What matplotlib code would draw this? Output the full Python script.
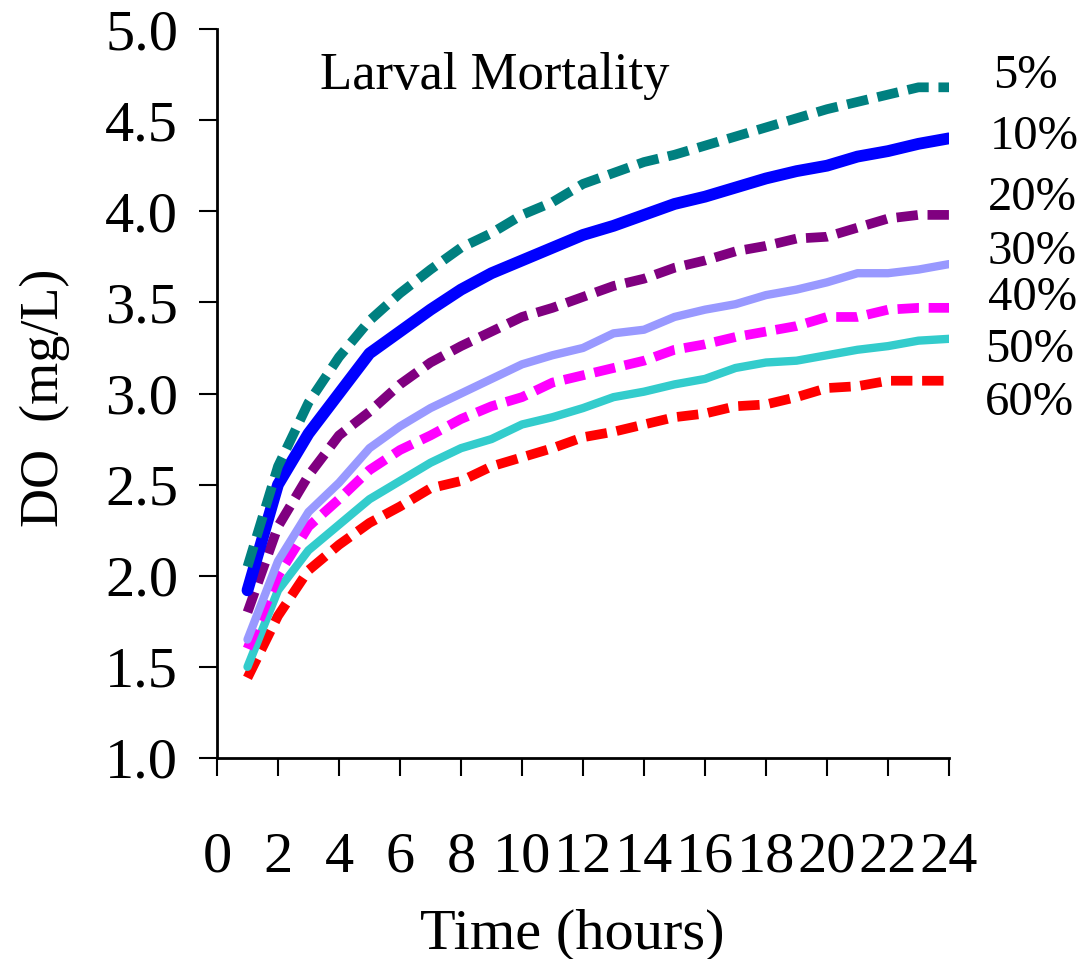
import numpy as np
import matplotlib
matplotlib.use("Agg")
import matplotlib.pyplot as plt

plt.rcParams["font.family"] = ["Liberation Serif", "DejaVu Serif"]

# hours after exposure
hours = list(range(1, 25))

# dissolved oxygen (mg/L) needed for each larval mortality level
do_5 = [2.05, 2.60, 2.95, 3.20, 3.40, 3.55, 3.68, 3.80, 3.88, 3.98, 4.05, 4.15,
        4.21, 4.27, 4.31, 4.36, 4.41, 4.46, 4.51, 4.56, 4.60, 4.64, 4.68, 4.68]
do_10 = [1.92, 2.50, 2.78, 3.00, 3.22, 3.34, 3.46, 3.57, 3.66, 3.73, 3.80, 3.87,
         3.92, 3.98, 4.04, 4.08, 4.13, 4.18, 4.22, 4.25, 4.30, 4.33, 4.37, 4.40]
do_20 = [1.80, 2.27, 2.55, 2.77, 2.90, 3.05, 3.17, 3.26, 3.34, 3.42, 3.47, 3.53,
         3.59, 3.63, 3.69, 3.73, 3.78, 3.81, 3.85, 3.86, 3.91, 3.96, 3.98, 3.98]
do_30 = [1.65, 2.08, 2.35, 2.51, 2.70, 2.82, 2.92, 3.00, 3.08, 3.16, 3.21, 3.25,
         3.33, 3.35, 3.42, 3.46, 3.49, 3.54, 3.57, 3.61, 3.66, 3.66, 3.68, 3.71]
do_40 = [1.60, 2.00, 2.27, 2.42, 2.58, 2.69, 2.77, 2.86, 2.93, 2.98, 3.06, 3.10,
         3.14, 3.18, 3.24, 3.27, 3.31, 3.34, 3.37, 3.42, 3.42, 3.46, 3.47, 3.47]
do_50 = [1.50, 1.92, 2.14, 2.28, 2.42, 2.52, 2.62, 2.70, 2.75, 2.83, 2.87, 2.92,
         2.98, 3.01, 3.05, 3.08, 3.14, 3.17, 3.18, 3.21, 3.24, 3.26, 3.29, 3.30]
do_60 = [1.44, 1.78, 2.03, 2.17, 2.29, 2.38, 2.48, 2.52, 2.60, 2.65, 2.70, 2.76,
         2.79, 2.83, 2.87, 2.89, 2.93, 2.94, 2.98, 3.03, 3.04, 3.07, 3.07, 3.07]

labels = ["5%", "10%", "20%", "30%", "40%", "50%", "60%"]
x_ticks = list(range(0, 25, 2))
y_ticks = [1.0, 1.5, 2.0, 2.5, 3.0, 3.5, 4.0, 4.5, 5.0]

W, H = 1088, 959
fig = plt.figure(figsize=(W / 100, H / 100), dpi=100)
ax = fig.add_axes([217 / W, 1 - 758 / H, (949 - 217) / W, (758 - 29) / H])

dash = (2.2, 1.0)
# (series, colour, width, dashed) -- drawn 60% first so lower levels sit on top
styles = [
    (do_60, "#FF0000", 7.0, True),
    (do_50, "#33CCCC", 6.0, False),
    (do_40, "#FF00FF", 7.0, True),
    (do_30, "#9999FF", 6.0, False),
    (do_20, "#800080", 7.0, True),
    (do_10, "#0000FF", 8.5, False),
    (do_5, "#008080", 7.0, True),
]
for ys, col, lw, dashed in styles:
    if dashed:
        ax.plot(hours, ys, color=col, lw=lw, dashes=dash, dash_capstyle="butt")
    else:
        ax.plot(hours, ys, color=col, lw=lw, solid_capstyle="round",
                solid_joinstyle="round")

ax.set_xlim(0, 24)
ax.set_ylim(1.0, 5.0)
ax.set_xticks(x_ticks)
ax.set_yticks(y_ticks)
ax.set_yticklabels([f"{v:.1f}" for v in y_ticks])
ax.spines["top"].set_visible(False)
ax.spines["right"].set_visible(False)
for s in ("left", "bottom"):
    ax.spines[s].set_linewidth(2.0)
ax.tick_params(axis="both", direction="out", length=13, width=1.5,
               labelsize=42)
ax.tick_params(axis="x", pad=40)
ax.tick_params(axis="y", pad=15)

fig.text(45 / W, 1 - 398 / H, "DO  (mg/L)", rotation=90, fontsize=39,
         ha="center", va="center")
fig.text(572 / W, 1 - 935 / H, "Time (hours)", fontsize=42,
         ha="center", va="center")
fig.text(320 / W, 1 - 76 / H, "Larval Mortality", fontsize=38,
         ha="left", va="center")

label_y = [76, 137, 198, 252, 298, 350, 403]
label_x = [993, 990, 988, 988, 988, 985, 985]
for lab, lx, ly in zip(labels, label_x, label_y):
    fig.text(lx / W, 1 - ly / H, lab, fontsize=35, ha="left", va="center")

fig.savefig("out.png", dpi=100)
